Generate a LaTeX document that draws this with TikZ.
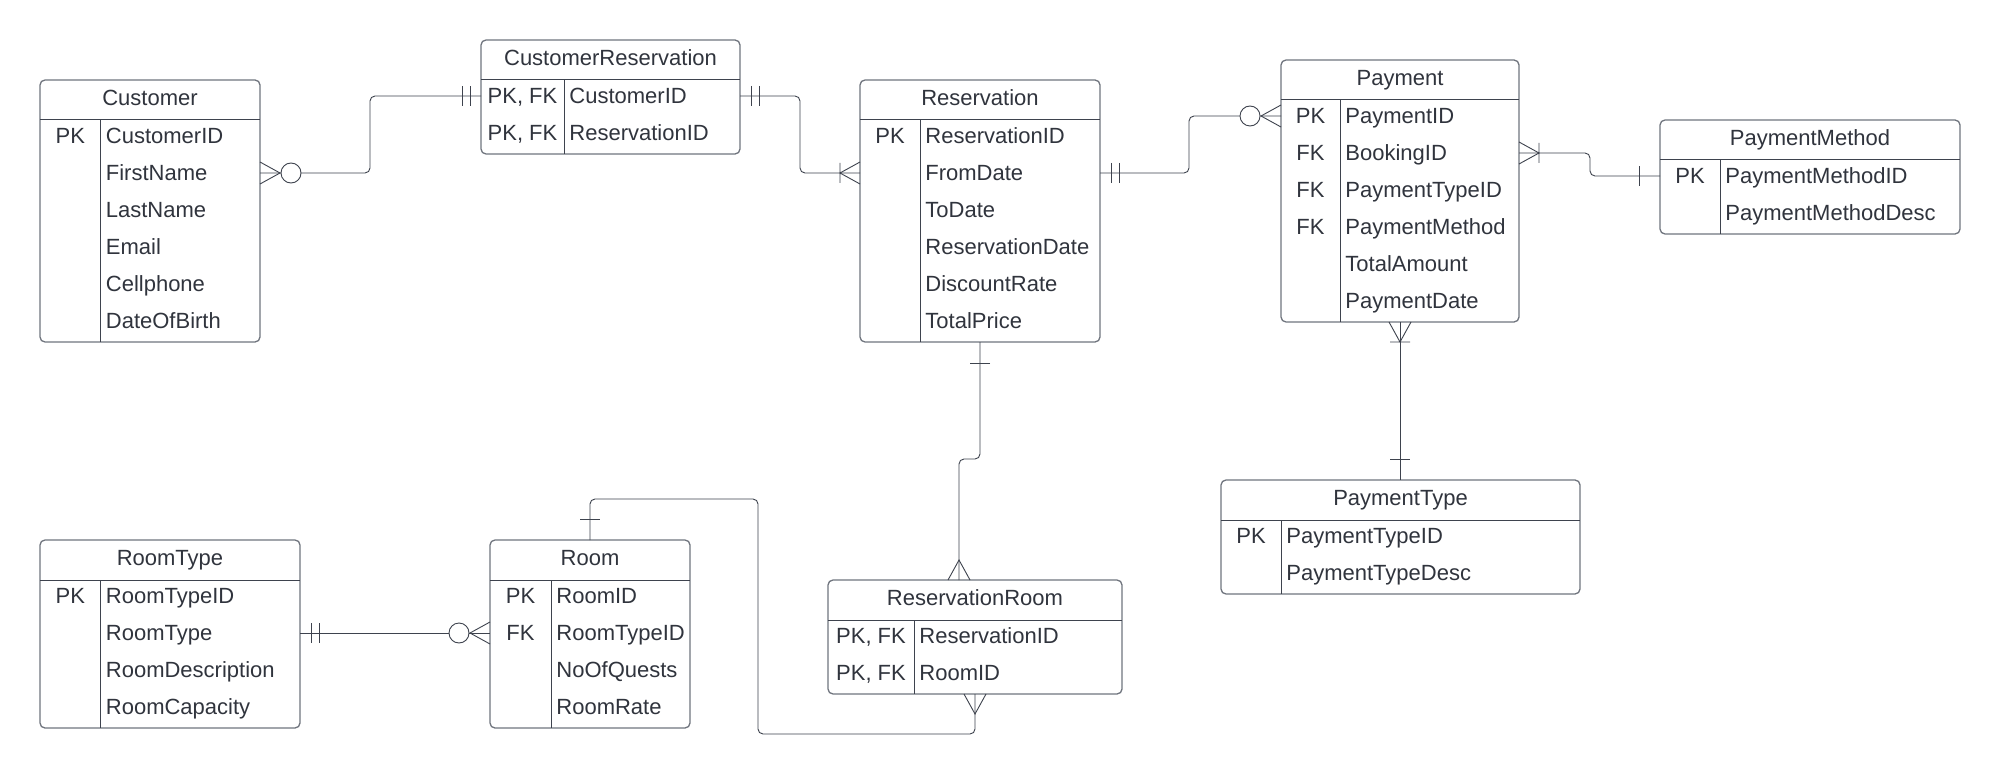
\documentclass[tikz,border=0pt]{standalone}
\usepackage{fontspec}
\setmainfont{Liberation Sans}
\definecolor{boxcol}{RGB}{112,117,126}
\definecolor{inkcol}{RGB}{62,67,78}
\definecolor{txtcol}{RGB}{48,52,61}
\newcommand\erbox[7]{%
  \node[ebox, minimum width={(#4-(#2))*0.5pt}, minimum height={(#5-(#3))*0.5pt}] (#1) at ({(#2+#4)/2},{(#3+#5)/2}) {};
  \draw[boxline] (#2,#3+40) -- (#4,#3+40);
  \draw[boxline] (#6,#3+40) -- (#6,#5);
  \node[etitle] (#1t) at ({(#2+#4)/2},{#3+18}) {#7};
}
\newcommand\erk[5]{\node[ekey] (#1) at ({(#2+#3)/2},#4) {#5};}
\newcommand\erf[4]{\node[efield] (#1) at ({#2+5},#3) {#4};}
\newcommand\mkone[2]{\begin{scope}[shift={(#1)},rotate=#2]\draw[conn] (21,-10)--(21,10);\end{scope}}
\newcommand\mkonly[2]{\begin{scope}[shift={(#1)},rotate=#2]\draw[conn] (11,-10)--(11,10) (19,-10)--(19,10);\end{scope}}
\newcommand\mkmany[2]{\begin{scope}[shift={(#1)},rotate=#2]\draw[conn] (0,-11)--(20,0)--(0,11);\end{scope}}
\newcommand\mkonemany[2]{\begin{scope}[shift={(#1)},rotate=#2]\draw[conn] (0,-11)--(20,0)--(0,11) (20,-10)--(20,10);\end{scope}}
\newcommand\mkzeromany[2]{\begin{scope}[shift={(#1)},rotate=#2]\draw[conn] (0,-11)--(20,0)--(0,11);\draw[conn,fill=white] (31,0) circle[radius=10];\end{scope}}
\begin{document}
\begin{tikzpicture}[x=0.5pt,y=-0.5pt,
  ebox/.style={draw=boxcol, line width=0.65pt, rounded corners=2.5pt, inner sep=0pt, outer sep=0pt, fill=white},
  boxline/.style={draw=inkcol, line width=0.5pt},
  etxt/.style={text=txtcol, font=\fontsize{11}{13}\selectfont, inner xsep=0pt, inner ysep=0pt, text height=7.9pt, text depth=0pt},
  etitle/.style={etxt, anchor=center},
  ekey/.style={etxt, anchor=center},
  efield/.style={etxt, anchor=west},
  conn/.style={draw=inkcol, line width=0.45pt}]
\path[use as bounding box, fill=white] (0,0) rectangle (2000,775);

% Customer
\erbox{cust}{40}{80}{260}{342}{100.5}{Customer}
\erk{custk1}{40}{100.5}{136}{PK}
\erf{custf1}{100.5}{136}{CustomerID}
\erf{custf2}{100.5}{173}{FirstName}
\erf{custf3}{100.5}{210}{LastName}
\erf{custf4}{100.5}{247}{Email}
\erf{custf5}{100.5}{284}{Cellphone}
\erf{custf6}{100.5}{321}{DateOfBirth}

% CustomerReservation
\erbox{cr}{481}{40}{740}{154}{564}{CustomerReservation}
\erk{crk1}{481}{564}{96}{PK, FK}
\erk{crk2}{481}{564}{133}{PK, FK}
\erf{crf1}{564}{96}{CustomerID}
\erf{crf2}{564}{133}{ReservationID}

% Reservation
\erbox{res}{860}{80}{1100}{342}{920}{Reservation}
\erk{resk1}{860}{920}{136}{PK}
\erf{resf1}{920}{136}{ReservationID}
\erf{resf2}{920}{173}{FromDate}
\erf{resf3}{920}{210}{ToDate}
\erf{resf4}{920}{247}{ReservationDate}
\erf{resf5}{920}{284}{DiscountRate}
\erf{resf6}{920}{321}{TotalPrice}

% Payment
\erbox{pay}{1281}{60}{1519}{322}{1340}{Payment}
\erk{payk1}{1281}{1340}{116}{PK}
\erk{payk2}{1281}{1340}{153}{FK}
\erk{payk3}{1281}{1340}{190}{FK}
\erk{payk4}{1281}{1340}{227}{FK}
\erf{payf1}{1340}{116}{PaymentID}
\erf{payf2}{1340}{153}{BookingID}
\erf{payf3}{1340}{190}{PaymentTypeID}
\erf{payf4}{1340}{227}{PaymentMethod}
\erf{payf5}{1340}{264}{TotalAmount}
\erf{payf6}{1340}{301}{PaymentDate}

% PaymentMethod
\erbox{pm}{1660}{120}{1960}{234}{1720}{PaymentMethod}
\erk{pmk1}{1660}{1720}{176}{PK}
\erf{pmf1}{1720}{176}{PaymentMethodID}
\erf{pmf2}{1720}{213}{PaymentMethodDesc}

% PaymentType
\erbox{pt}{1221}{480}{1580}{594}{1281}{PaymentType}
\erk{ptk1}{1221}{1281}{536}{PK}
\erf{ptf1}{1281}{536}{PaymentTypeID}
\erf{ptf2}{1281}{573}{PaymentTypeDesc}

% RoomType
\erbox{rt}{40}{540}{300}{728}{100.5}{RoomType}
\erk{rtk1}{40}{100.5}{596}{PK}
\erf{rtf1}{100.5}{596}{RoomTypeID}
\erf{rtf2}{100.5}{633}{RoomType}
\erf{rtf3}{100.5}{670}{RoomDescription}
\erf{rtf4}{100.5}{707}{RoomCapacity}

% Room
\erbox{room}{490}{540}{690}{728}{551}{Room}
\erk{roomk1}{490}{551}{596}{PK}
\erk{roomk2}{490}{551}{633}{FK}
\erf{roomf1}{551}{596}{RoomID}
\erf{roomf2}{551}{633}{RoomTypeID}
\erf{roomf3}{551}{670}{NoOfQuests}
\erf{roomf4}{551}{707}{RoomRate}

% ReservationRoom
\erbox{rr}{828}{580}{1122}{694}{914}{ReservationRoom}
\erk{rrk1}{828}{914}{636}{PK, FK}
\erk{rrk2}{828}{914}{673}{PK, FK}
\erf{rrf1}{914}{636}{ReservationID}
\erf{rrf2}{914}{673}{RoomID}

% connectors
\draw[conn, rounded corners=2.5pt] (cust.east |- custf2.west) -| (370,0 |- crf1.west) -- (cr.west |- crf1.west);
\draw[conn, rounded corners=2.5pt] (cr.east |- crf1.west) -| (800,0 |- resf2.west) -- (res.west |- resf2.west);
\draw[conn, rounded corners=2.5pt] (res.east |- resf2.west) -| (1189,0 |- payf1.west) -- (pay.west |- payf1.west);
\draw[conn, rounded corners=2.5pt] (pay.east |- payf2.west) -| (1590,0 |- pmf1.west) -- (pm.west |- pmf1.west);
\draw[conn] (pay.south) -- (pay.south |- pt.north);
\draw[conn, rounded corners=2.5pt] (res.south) -- (res.south |- 0,459) -| ([xshift=-8pt]rr.north);
\draw[conn, rounded corners=2.5pt] (room.north) |- (758,499) -- (758,734) -| (rr.south);
\draw[conn] (rt.east |- rtf2.west) -- (room.west |- rtf2.west);

% markers
\mkzeromany{cust.east |- custf2.west}{0}
\mkonly{cr.west |- crf1.west}{180}
\mkonly{cr.east |- crf1.west}{0}
\mkonemany{res.west |- resf2.west}{180}
\mkonly{res.east |- resf2.west}{0}
\mkzeromany{pay.west |- payf1.west}{180}
\mkonemany{pay.east |- payf2.west}{0}
\mkone{pm.west |- pmf1.west}{180}
\mkonemany{pay.south}{-90}
\mkone{pay.south |- pt.north}{90}
\mkone{res.south}{-90}
\mkmany{[xshift=-8pt]rr.north}{90}
\mkone{room.north}{90}
\mkmany{rr.south}{-90}
\mkonly{rt.east |- rtf2.west}{0}
\mkzeromany{room.west |- rtf2.west}{180}
\end{tikzpicture}
\end{document}
